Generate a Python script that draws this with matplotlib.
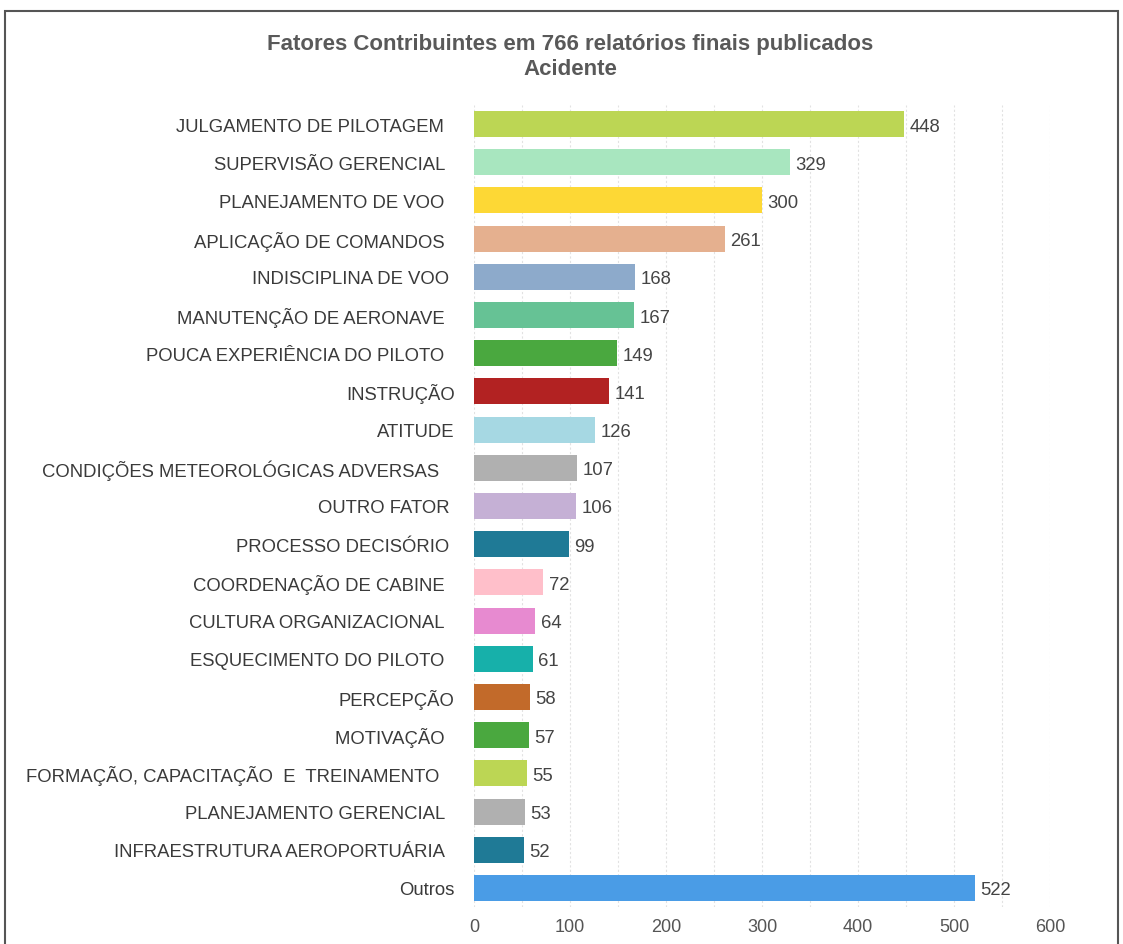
import matplotlib
matplotlib.use("Agg")
import matplotlib.pyplot as plt
from matplotlib.patches import Rectangle
import numpy as np

title = "Fatores Contribuintes em 766 relatórios finais publicados\nAcidente"
categories = [
    "JULGAMENTO DE PILOTAGEM  ",
    "SUPERVISÃO GERENCIAL  ",
    "PLANEJAMENTO DE VOO  ",
    "APLICAÇÃO DE COMANDOS  ",
    "INDISCIPLINA DE VOO ",
    "MANUTENÇÃO DE AERONAVE  ",
    "POUCA EXPERIÊNCIA DO PILOTO  ",
    "INSTRUÇÃO",
    "ATITUDE",
    "CONDIÇÕES METEOROLÓGICAS ADVERSAS   ",
    "OUTRO FATOR ",
    "PROCESSO DECISÓRIO ",
    "COORDENAÇÃO DE CABINE  ",
    "CULTURA ORGANIZACIONAL  ",
    "ESQUECIMENTO DO PILOTO  ",
    "PERCEPÇÃO",
    "MOTIVAÇÃO  ",
    "FORMAÇÃO, CAPACITAÇÃO  E  TREINAMENTO   ",
    "PLANEJAMENTO GERENCIAL  ",
    "INFRAESTRUTURA AEROPORTUÁRIA  ",
    "Outros",
]
values = [448, 329, 300, 261, 168, 167, 149, 141, 126, 107, 106, 99, 72, 64, 61, 58, 57, 55, 53, 52, 522]
colors = [
    "#bcd654", "#a8e6bf", "#fdd835", "#e5b08f", "#8daacb", "#66c295", "#4aa83f",
    "#b22222", "#a6d8e3", "#b0b0b0", "#c5b0d5", "#1f7a96", "#ffbfca", "#e78ad0",
    "#17b0aa", "#c26a2a", "#4aa83f", "#bcd654", "#b0b0b0", "#1f7a96", "#4a9ce6",
]
x_ticks = [0, 100, 200, 300, 400, 500, 600]
grid_ticks = list(range(0, 601, 50))

plt.rcParams['font.family'] = ['Liberation Sans', 'DejaVu Sans']

fig = plt.figure(figsize=(11.23, 9.45), dpi=100)
ax = fig.add_axes([474/1123, 1-908/945, (1050-474)/1123, (908-106)/945])

y = np.arange(len(categories))
ax.barh(y, values, height=0.68, color=colors, zorder=3)
ax.set_ylim(len(categories)-0.5, -0.5)
ax.set_xlim(0, 600)
ax.set_yticks(y)
ax.set_yticklabels(categories, fontsize=13.3, color="#3a3a3a", va="center_baseline")
ax.set_xticks(x_ticks)
ax.set_xticklabels([str(t) for t in x_ticks], fontsize=13, color="#555555")
ax.set_xticks(grid_ticks, minor=True)
ax.tick_params(axis='y', length=0, pad=14)
ax.tick_params(axis='x', length=0, pad=8)
ax.tick_params(axis='x', which='minor', length=0)
ax.grid(axis='x', which='both', color="#e2e2e2", linestyle=(0, (2, 2)), linewidth=0.8, zorder=0)
for s in ax.spines.values():
    s.set_visible(False)

for yi, v in zip(y, values):
    ax.annotate(str(v), (v, yi), xytext=(4, 0), textcoords="offset points",
                va="center_baseline", ha="left", fontsize=13.3, color="#444444")

fig.text(570/1123, 1-57/945, title, ha="center", va="center", fontsize=16,
         fontweight="bold", color="#595959", linespacing=1.2)

fig.patches.append(Rectangle((5/1123, -0.05), (1118-5)/1123, 1.05 - 12/945,
                             transform=fig.transFigure, fill=False,
                             edgecolor="#555555", linewidth=1.5))

fig.savefig("out.png", dpi=100, facecolor="white")
